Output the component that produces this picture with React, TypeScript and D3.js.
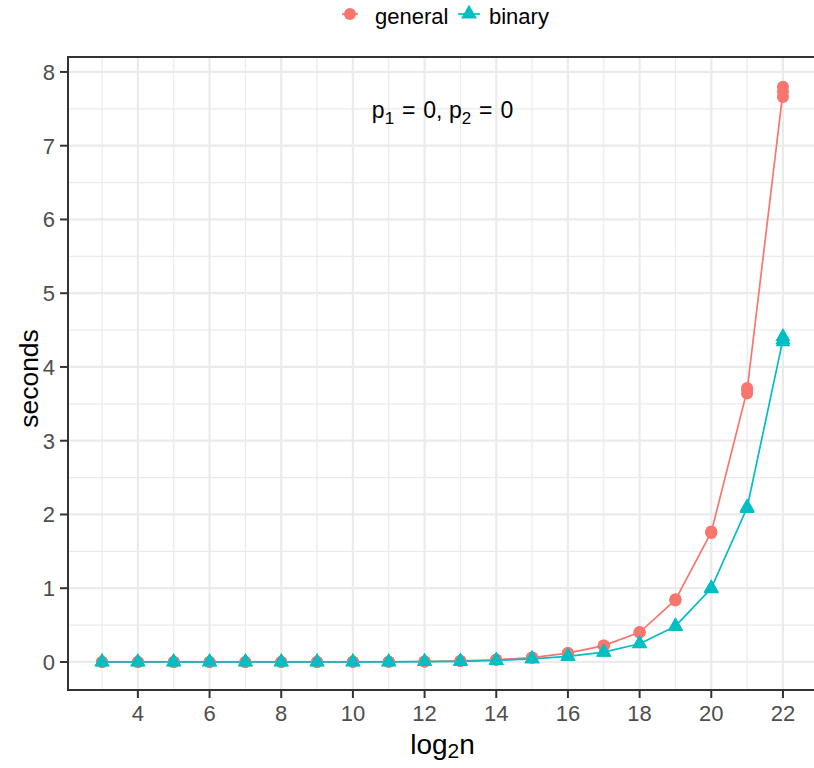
import React from "react";
import * as d3 from "d3";

// log2 of the input size
const log2n = [3, 4, 5, 6, 7, 8, 9, 10, 11, 12, 13, 14, 15, 16, 17, 18, 19, 20, 21, 22];

// timings in seconds, three runs per algorithm
const generalRun1 = [0, 0, 0, 0, 0, 0.001, 0.001, 0.002, 0.003, 0.006, 0.013, 0.029, 0.058, 0.116, 0.218, 0.398, 0.832, 1.748, 3.640, 7.660];
const generalRun2 = [0, 0, 0, 0, 0.001, 0.001, 0.001, 0.002, 0.003, 0.006, 0.014, 0.030, 0.060, 0.120, 0.222, 0.404, 0.845, 1.770, 3.690, 7.730];
const generalRun3 = [0, 0, 0, 0, 0, 0.001, 0.001, 0.002, 0.003, 0.007, 0.014, 0.031, 0.061, 0.121, 0.224, 0.406, 0.850, 1.760, 3.715, 7.800];

const binaryRun1 = [0, 0, 0, 0, 0, 0, 0.001, 0.001, 0.002, 0.004, 0.009, 0.020, 0.042, 0.075, 0.130, 0.245, 0.480, 0.990, 2.080, 4.340];
const binaryRun2 = [0, 0, 0, 0, 0, 0, 0.001, 0.001, 0.002, 0.004, 0.009, 0.021, 0.043, 0.077, 0.133, 0.248, 0.485, 1.000, 2.095, 4.370];
const binaryRun3 = [0, 0, 0, 0, 0, 0, 0.001, 0.001, 0.002, 0.004, 0.010, 0.021, 0.044, 0.078, 0.135, 0.250, 0.490, 1.005, 2.100, 4.410];

const xTicks = [4, 6, 8, 10, 12, 14, 16, 18, 20, 22];
const yTicks = [0, 1, 2, 3, 4, 5, 6, 7, 8];

const seriesNames = ["general", "binary"];
const seriesColors = ["#F8766D", "#00BFC4"];

const W = 814;
const H = 768;
const FONT = "'Liberation Sans', Arial, Helvetica, sans-serif";
const NBSP = "\u00A0";

type Pt = { x: number; y: number };

function runsToPoints(runs: number[][]): Pt[] {
  const pts: Pt[] = [];
  runs.forEach((r) => r.forEach((v, i) => pts.push({ x: log2n[i], y: v })));
  return pts;
}

function meanLine(runs: number[][]): Pt[] {
  return log2n.map((x, i) => ({ x, y: d3.mean(runs, (r) => r[i]) as number }));
}

function trianglePath(cx: number, cy: number, s: number) {
  const h = (s * Math.sqrt(3)) / 2;
  return `M${cx},${cy - (2 * h) / 3}L${cx + s / 2},${cy + h / 3}L${cx - s / 2},${cy + h / 3}Z`;
}

export default function App() {
  const x = d3.scaleLinear().domain([2.05, 22.95]).range([68, 817]);
  const y = d3.scaleLinear().domain([-0.38, 8.2]).range([690, 57.2]);

  const panel = { left: 68, right: 817, top: 57, bottom: 690 };

  const xMinor = d3.range(3, 23, 2);
  const yMinor = d3.range(0.5, 8.5, 1);

  const generalRuns = [generalRun1, generalRun2, generalRun3];
  const binaryRuns = [binaryRun1, binaryRun2, binaryRun3];

  const line = d3
    .line<Pt>()
    .x((d) => x(d.x))
    .y((d) => y(d.y));

  const genPts = runsToPoints(generalRuns);
  const binPts = runsToPoints(binaryRuns);

  const cx = (panel.left + panel.right) / 2;

  return (
    <svg
      width={W}
      height={H}
      style={{ position: "absolute", left: 0, top: 0, background: "#fff" }}
      fontFamily={FONT}
    >
      <rect x={0} y={0} width={W} height={H} fill="#fff" />
      <defs>
        <clipPath id="panelClip">
          <rect x={panel.left} y={panel.top} width={panel.right - panel.left} height={panel.bottom - panel.top} />
        </clipPath>
      </defs>

      {/* grid */}
      <g clipPath="url(#panelClip)">
        {xMinor.map((v) => (
          <line key={"xm" + v} x1={x(v)} x2={x(v)} y1={panel.top} y2={panel.bottom} stroke="#EBEBEB" strokeWidth={1.2} />
        ))}
        {yMinor.map((v) => (
          <line key={"ym" + v} x1={panel.left} x2={panel.right} y1={y(v)} y2={y(v)} stroke="#EBEBEB" strokeWidth={1.2} />
        ))}
        {xTicks.map((v) => (
          <line key={"xM" + v} x1={x(v)} x2={x(v)} y1={panel.top} y2={panel.bottom} stroke="#EBEBEB" strokeWidth={2.2} />
        ))}
        {yTicks.map((v) => (
          <line key={"yM" + v} x1={panel.left} x2={panel.right} y1={y(v)} y2={y(v)} stroke="#EBEBEB" strokeWidth={2.2} />
        ))}

        {/* lines */}
        <path d={line(meanLine(generalRuns)) || ""} fill="none" stroke={seriesColors[0]} strokeWidth={1.7} />
        <path d={line(meanLine(binaryRuns)) || ""} fill="none" stroke={seriesColors[1]} strokeWidth={1.7} />

        {/* points */}
        {genPts.map((p, i) => (
          <circle key={"g" + i} cx={x(p.x)} cy={y(p.y)} r={6} fill={seriesColors[0]} />
        ))}
        {binPts.map((p, i) => (
          <path key={"b" + i} d={trianglePath(x(p.x), y(p.y), 15)} fill={seriesColors[1]} />
        ))}
      </g>

      {/* annotation */}
      <text x={cx} y={118} textAnchor="middle" fontSize={23} fill="#000">
        <tspan>p</tspan>
        <tspan fontSize={17} dy={6}>1</tspan>
        <tspan dy={-6} dx={1.5}>{NBSP + "=" + NBSP}</tspan>
        <tspan dx={1.5}>{"0," + NBSP + "p"}</tspan>
        <tspan fontSize={17} dy={6}>2</tspan>
        <tspan dy={-6} dx={1.5}>{NBSP + "=" + NBSP}</tspan>
        <tspan dx={1.5}>0</tspan>
      </text>

      {/* panel border */}
      <rect
        x={panel.left}
        y={panel.top}
        width={panel.right - panel.left}
        height={panel.bottom - panel.top}
        fill="none"
        stroke="#333333"
        strokeWidth={2}
      />

      {/* y axis */}
      {yTicks.map((v) => (
        <g key={"yt" + v}>
          <line x1={panel.left - 8} x2={panel.left} y1={y(v)} y2={y(v)} stroke="#333333" strokeWidth={2} />
          <text x={55} y={y(v)} dy="0.36em" textAnchor="end" fontSize={22} fill="#4D4D4D">
            {v}
          </text>
        </g>
      ))}

      {/* x axis */}
      {xTicks.map((v) => (
        <g key={"xt" + v}>
          <line x1={x(v)} x2={x(v)} y1={panel.bottom} y2={panel.bottom + 8} stroke="#333333" strokeWidth={2} />
          <text x={x(v)} y={721} textAnchor="middle" fontSize={22} fill="#4D4D4D">
            {v}
          </text>
        </g>
      ))}

      {/* axis titles */}
      <text x={cx} y={754} textAnchor="middle" fontSize={28} fill="#000">
        <tspan>log</tspan>
        <tspan fontSize={21} dy={4}>2</tspan>
        <tspan dy={-4}>n</tspan>
      </text>
      <text
        transform={`translate(38,${(panel.top + panel.bottom) / 2 + 5}) rotate(-90)`}
        textAnchor="middle"
        fontSize={26.5}
        fill="#000"
      >
        seconds
      </text>

      {/* legend */}
      <g>
        <line x1={342} x2={358} y1={14} y2={14} stroke={seriesColors[0]} strokeWidth={1.7} />
        <circle cx={350} cy={14} r={6} fill={seriesColors[0]} />
        <text x={375} y={24} fontSize={22} fill="#000">
          {seriesNames[0]}
        </text>
        <line x1={458} x2={480} y1={14} y2={14} stroke={seriesColors[1]} strokeWidth={1.7} />
        <path d={trianglePath(469, 14, 16)} fill={seriesColors[1]} />
        <text x={489} y={24} fontSize={22} fill="#000">
          {seriesNames[1]}
        </text>
      </g>
    </svg>
  );
}
